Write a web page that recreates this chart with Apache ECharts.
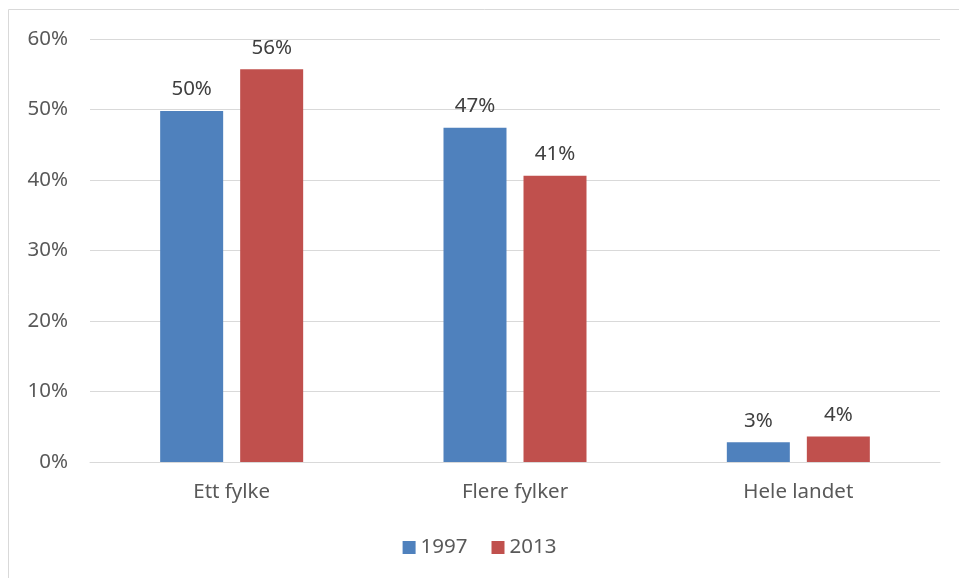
<!DOCTYPE html>
<html><head><meta charset="utf-8">
<script src="https://cdn.jsdelivr.net/npm/echarts@6/dist/echarts.min.js"></script>
<style>html,body{margin:0;padding:0;background:#fff}#c{width:959px;height:578px}</style>
</head><body><div id="c"></div>
<script>
const categories = ['Ett fylke', 'Flere fylker', 'Hele landet'];
const seriesNames = ['1997', '2013'];
const values1997 = [49.8, 47.4, 2.8];
const values2013 = [55.7, 40.6, 3.6];
const yTicks = [0, 10, 20, 30, 40, 50, 60];

const font = 'Noto Sans';
const txt = '#595959';
const fs = 20.5;
const chart = echarts.init(document.getElementById('c'));
const labelCfg = {
  show: true, position: 'top', distance: 11, color: '#404040', fontSize: fs, fontFamily: font,
  formatter: p => Math.round(p.value) + '%'
};
chart.setOption({
  animation: false,
  graphic: [{type: 'rect', shape: {x: 8.5, y: 9.5, width: 960, height: 580}, style: {fill: 'none', stroke: '#d9d9d9', lineWidth: 1}}],
  grid: {left: 90, right: 19, top: 39, bottom: 116},
  legend: {
    data: seriesNames, bottom: 15, left: 'center', itemWidth: 13, itemHeight: 13, itemGap: 24,
    icon: 'rect', textStyle: {color: txt, fontSize: fs, fontFamily: font}
  },
  xAxis: {
    type: 'category', data: categories,
    axisLine: {lineStyle: {color: '#d9d9d9', width: 1}},
    axisTick: {show: false},
    axisLabel: {color: txt, fontSize: fs, fontFamily: font, margin: 20}
  },
  yAxis: {
    type: 'value', min: yTicks[0], max: yTicks[yTicks.length - 1], interval: 10,
    axisLine: {show: false}, axisTick: {show: false},
    axisLabel: {color: txt, fontSize: fs, fontFamily: font, margin: 22, formatter: v => v + '%'},
    splitLine: {lineStyle: {color: '#d9d9d9', width: 1}}
  },
  series: [
    {name: seriesNames[0], type: 'bar', data: values1997, barWidth: 63, barGap: '27%',
     itemStyle: {color: '#4f81bd'}, label: labelCfg},
    {name: seriesNames[1], type: 'bar', data: values2013, barWidth: 63,
     itemStyle: {color: '#c0504d'}, label: labelCfg}
  ]
});
</script></body></html>
